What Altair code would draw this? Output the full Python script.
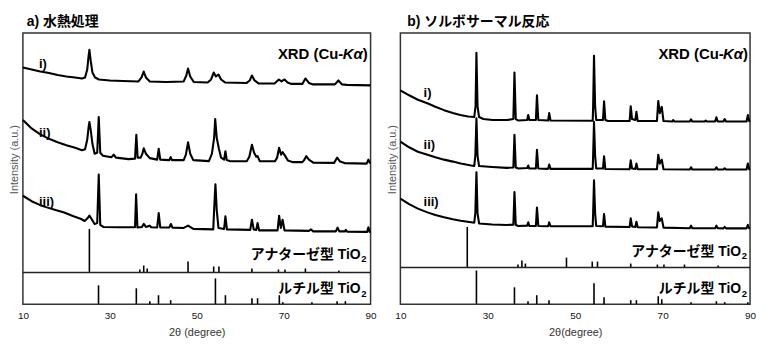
import altair as alt
import pandas as pd

# ---------------- data (2theta in degree, intensity in a.u.) ----------------
# a) hydrothermal treatment
HYDRO_I = [(10, 239), (12, 237), (14, 235), (16, 233.5), (18, 231.5), (20, 230), (22, 229), (23.6, 228),
           (24.3, 229), (24.8, 237), (25.1, 250), (25.3, 257), (25.6, 246), (26.0, 234), (26.6, 229),
           (27.5, 227), (30, 226), (33, 225.5), (36.6, 225), (37.3, 229), (37.8, 235), (38.3, 229),
           (39.2, 225), (43, 224.5), (47.0, 225), (47.6, 231), (48.0, 238), (48.5, 230), (49.3, 224.5),
           (52.5, 224), (53.3, 227), (53.9, 234), (54.4, 230), (55.0, 232), (55.6, 227), (56.5, 224),
           (61.5, 223.5), (62.2, 226), (62.7, 231), (63.3, 226), (64.2, 223), (67.9, 223), (68.4, 225),
           (68.9, 227), (69.5, 225), (70.2, 227), (70.9, 224), (71.8, 222.5), (74.3, 222.5), (75.0, 228),
           (75.8, 223.5), (76.8, 222), (81.8, 222), (82.6, 226), (83.4, 222), (84.5, 221.5), (90, 221)]
HYDRO_II = [(10, 186), (12, 177.5), (14, 171.5), (16, 167), (18, 163.5), (20, 160.5), (22, 158), (23.6, 155.5),
            (24.3, 156.5), (24.8, 166), (25.1, 178), (25.3, 184), (25.6, 176), (26.0, 162), (26.5, 152),
            (27.1, 153), (27.45, 189), (27.8, 153), (28.4, 150), (30.4, 148.5), (30.9, 151), (31.4, 148),
            (34.3, 146.5), (35.8, 147), (36.1, 171), (36.4, 148), (37.1, 148), (37.5, 152), (37.8, 157.5),
            (38.3, 152), (39.2, 147.5), (40.9, 146), (41.25, 157), (41.6, 146), (43.7, 145.5), (44.0, 148.5),
            (44.3, 145.5), (47.0, 145.5), (47.5, 151), (48.0, 163.5), (48.5, 152), (49.2, 145.5),
            (52.8, 144.5), (53.5, 152), (54.0, 168), (54.25, 187), (54.6, 168), (55.1, 157), (55.6, 148),
            (56.3, 146), (56.6, 154.5), (56.9, 145.5), (57.6, 144.5), (61.5, 144.3), (62.1, 149),
            (62.7, 161), (63.2, 153), (63.7, 149), (64.0, 149.5), (64.5, 144.5), (68.0, 144.3), (68.5, 148),
            (68.95, 158), (69.4, 151), (69.75, 153.5), (70.3, 150), (71.0, 145), (72.0, 143.5),
            (74.3, 143.5), (74.7, 145.5), (75.2, 149.5), (75.8, 146), (76.8, 143), (81.6, 142.7),
            (82.3, 148), (83.0, 144), (84.0, 142.5), (89.1, 142), (89.5, 146), (89.8, 143), (90, 142.5)]
HYDRO_III = [(10, 109.5), (12, 104), (14, 100), (15.7, 97.5), (17.5, 95), (19.5, 92.5), (21.5, 89), (23.4, 86),
             (24.2, 84), (24.8, 86.5), (25.3, 89.5), (25.8, 86), (26.5, 81), (27.1, 82), (27.45, 131),
             (27.8, 80), (28.5, 78), (32, 77.7), (35.8, 77.7), (36.05, 111), (36.35, 77.5), (37.4, 78),
             (37.8, 81), (38.3, 78), (39.2, 79.3), (39.5, 77.7), (40.9, 77.5), (41.25, 92), (41.6, 77.5),
             (43.7, 77.5), (44.05, 81), (44.4, 77.3), (47.0, 77), (48.0, 79.3), (49.2, 76), (53.8, 75.5),
             (54.05, 100), (54.3, 121), (54.6, 95), (55.0, 77), (56.3, 76), (56.6, 88.7), (56.95, 75.5),
             (62.3, 75), (62.7, 85.3), (63.1, 75.5), (63.7, 75), (64.0, 82), (64.35, 74.5), (68.6, 74.5),
             (68.95, 89.3), (69.35, 77), (69.75, 85.3), (70.2, 74.5), (75.8, 74), (76.3, 75.5), (76.8, 73.5),
             (82.0, 73.5), (82.4, 77.3), (82.8, 73.5), (84.1, 73.5), (84.3, 75), (84.6, 73.3), (89.2, 73),
             (89.5, 77.7), (89.8, 73), (90, 73)]

# b) solvothermal reaction
SOLVO_I = [(10, 216), (12, 211), (14, 206.5), (16.3, 202.7), (18, 199.5), (20, 196), (22, 193), (23.7, 191),
           (25.5, 189.5), (26.9, 189), (27.2, 200), (27.4, 254), (27.65, 200), (28.0, 189), (29, 187),
           (31.1, 186), (34.4, 186), (35.85, 187), (36.1, 234), (36.4, 187), (37.0, 185.5), (39.0, 186),
           (39.25, 191), (39.5, 186), (41.0, 186), (41.25, 211), (41.55, 186), (43.8, 185.5), (44.05, 193),
           (44.35, 185.5), (54.0, 185.3), (54.1, 200), (54.3, 251), (54.55, 200), (54.8, 186), (56.35, 186),
           (56.6, 205), (56.9, 186), (57.5, 185), (62.45, 185), (62.7, 200), (63.0, 187), (63.75, 186),
           (64.0, 194.3), (64.3, 185), (68.7, 185), (69.0, 205.3), (69.35, 193), (69.8, 199.3), (70.2, 185),
           (72.2, 184.5), (72.4, 186), (72.7, 184.5), (76.2, 184.5), (76.5, 186.7), (76.8, 184.5),
           (79.6, 184.5), (79.85, 185.5), (80.1, 184.5), (82.0, 184.5), (82.3, 188.7), (82.6, 184.5),
           (83.9, 184.5), (84.2, 187), (84.5, 184.5), (89.2, 184.5), (89.5, 191), (89.8, 185), (90, 184.5)]
SOLVO_II = [(10, 164.3), (12, 158.5), (14, 154), (16.2, 151), (18, 148.5), (20, 146), (22, 144), (23.8, 142),
            (26.2, 140), (26.9, 139.5), (27.15, 150), (27.4, 187.7), (27.65, 150), (28.0, 139.5), (31, 138.5),
            (34.4, 137.7), (35.85, 138), (36.1, 171), (36.4, 138), (37.0, 137), (39.0, 137.5), (39.25, 140),
            (39.5, 137), (41.0, 137), (41.25, 156), (41.55, 137), (43.8, 136.7), (44.05, 141), (44.35, 136.7),
            (54.0, 136.7), (54.1, 150), (54.3, 184.3), (54.55, 150), (54.8, 137), (56.35, 137), (56.6, 149.3),
            (56.9, 136.5), (62.45, 136.3), (62.7, 145.3), (63.0, 137), (63.75, 136.5), (64.0, 142),
            (64.3, 136.3), (68.7, 136.3), (69.0, 151), (69.35, 142), (69.8, 146), (70.2, 136.3), (76.2, 136),
            (76.5, 138.3), (76.8, 136), (82.0, 136), (82.3, 138.3), (82.6, 136), (83.9, 136), (84.2, 137.3),
            (84.5, 136), (89.2, 136), (89.5, 142), (89.8, 136.3), (90, 136)]
SOLVO_III = [(10, 106.7), (12, 101), (14, 96.5), (16.2, 92.7), (18, 90), (20, 87.7), (22, 85.8), (23.8, 84.3),
             (26.2, 82.7), (26.9, 82.3), (27.15, 92), (27.4, 133.3), (27.65, 92), (28.0, 81.5), (31, 80.5),
             (34.4, 80), (35.85, 80.3), (36.1, 113.3), (36.4, 80), (37.0, 79), (39.0, 79.3), (39.25, 82.7),
             (39.5, 79), (41.0, 79), (41.25, 97.7), (41.55, 79), (43.8, 78.7), (44.05, 82.7), (44.35, 78.7),
             (54.0, 78.7), (54.1, 92), (54.3, 125), (54.55, 92), (54.8, 79), (56.35, 78.7), (56.6, 91),
             (56.9, 78.3), (62.45, 78), (62.7, 86.7), (63.0, 78.5), (63.75, 78), (64.0, 83.3), (64.3, 77.7),
             (68.7, 77.5), (69.0, 92.7), (69.35, 84), (69.8, 86.7), (70.2, 77.3), (76.2, 76.7), (76.5, 79.3),
             (76.8, 76.7), (82.0, 76.7), (82.3, 79.3), (82.6, 76.7), (83.9, 76.5), (84.2, 78), (84.5, 76.5),
             (89.2, 76.5), (89.5, 80), (89.8, 76.7), (90, 76.5)]

# reference patterns (stick positions and heights)
ANATASE_ANGLE = [25.3, 36.9, 37.8, 38.6, 48.0, 53.9, 55.1, 62.7, 68.8, 70.3, 75.0, 82.7]
ANATASE_H_A = [44, 3, 7, 4, 11, 6, 6, 4, 3, 3, 4, 2]
ANATASE_H_B = [41, 3, 7, 4, 10, 6, 6, 4, 3, 3, 3, 2]
RUTILE_ANGLE = [27.4, 36.1, 39.2, 41.2, 44.0, 54.3, 56.6, 62.7, 64.0, 69.0, 69.8, 76.5, 82.3, 84.2, 89.5]
RUTILE_H_A = [19, 16, 3, 9, 4, 26, 9, 6, 6, 9, 2, 2, 3, 3, 0]
RUTILE_H_B = [34, 17, 3, 9, 4, 21, 7, 4, 4, 8, 5, 2, 3, 2, 2]
ANATASE_BASE_A = 32
ANATASE_BASE_B = 37

SAMPLES = ["i)", "ii)", "iii)"]
SAMPLE_POS_A = [(13.7, 242.5), (13.7, 173), (13.7, 103.5)]
SAMPLE_POS_B = [(15.3, 213), (15.3, 161), (15.3, 103)]

X_TICKS = [10, 30, 50, 70, 90]

FONT = "Liberation Sans, Arial, Noto Sans CJK JP, sans-serif"
JFONT = "Liberation Sans, Noto Sans CJK JP, sans-serif"
PLOT_H = 273


def make_panel(curves, ana_h, rut_h, ana_base, sample_pos, title, title_dx, xtitle, width,
               ana_label_y, rut_label_y, right_dx):
    xs = alt.Scale(domain=[10, 90], nice=False, zero=False)
    ys = alt.Scale(domain=[0, 274], nice=False, zero=False)

    x_axis = alt.Axis(values=X_TICKS, ticks=False, tickSize=0, domain=False, grid=False,
                      labelFontSize=10, labelFont=FONT, labelColor="#111", labelPadding=6,
                      labelFlush=False, labelOverlap=False,
                      title=xtitle, titleFont=FONT, titleFontSize=11, titleFontWeight="normal",
                      titleColor="#333", titlePadding=7, minExtent=0)
    y_axis = alt.Axis(labels=False, ticks=False, tickSize=0, domain=False, grid=False,
                      title="Intensity (a.u.)", titleFont=FONT, titleFontSize=11,
                      titleFontWeight="normal", titleColor="#555", titlePadding=3,
                      minExtent=0, titleY=127)

    def X(field):
        return alt.X(field, scale=xs, axis=x_axis, title=xtitle)

    def Y(field):
        return alt.Y(field, scale=ys, axis=y_axis, title="Intensity (a.u.)")

    frames = []
    for name, pts in zip(SAMPLES, curves):
        d = pd.DataFrame(pts, columns=["angle", "intensity"])
        d["sample"] = name
        frames.append(d)
    line_df = pd.concat(frames, ignore_index=True)

    lines = alt.Chart(line_df).mark_line(color="black", strokeWidth=2.1, strokeJoin="round").encode(
        x=X("angle:Q"), y=Y("intensity:Q"), detail="sample:N",
    )

    ana_df = pd.DataFrame({"angle": ANATASE_ANGLE, "h": ana_h})
    ana_df["base"] = ana_base
    ana_df["top"] = ana_df["base"] + ana_df["h"]
    rut_df = pd.DataFrame({"angle": RUTILE_ANGLE, "h": rut_h})
    rut_df["base"] = 0
    rut_df["top"] = rut_df["h"]
    sticks_df = pd.concat([ana_df, rut_df], ignore_index=True)
    sticks_df = sticks_df[sticks_df["h"] > 0]

    sticks = alt.Chart(sticks_df).mark_rule(color="black", strokeWidth=1.6).encode(
        x=X("angle:Q"), y=Y("base:Q"), y2="top:Q",
    )

    divider = alt.Chart(pd.DataFrame({"v": [ana_base]})).mark_rule(color="#222", strokeWidth=1.5).encode(
        y=Y("v:Q")
    )

    lab_df = pd.DataFrame({"label": SAMPLES, "angle": [p[0] for p in sample_pos],
                           "intensity": [p[1] for p in sample_pos]})
    labels = alt.Chart(lab_df).mark_text(align="left", baseline="middle", fontSize=13,
                                         fontWeight="bold", font=FONT, color="black").encode(
        x=X("angle:Q"), y=Y("intensity:Q"), text="label:N",
    )

    def right_text(txt, yv, dx, size, style="normal", dy=0, font=FONT):
        return alt.Chart(pd.DataFrame({"t": [txt], "angle": [90], "intensity": [yv]})).mark_text(
            align="right", baseline="middle", fontSize=size, fontWeight="bold", fontStyle=style,
            font=font, dx=dx, dy=dy, color="black").encode(
            x=X("angle:Q"), y=Y("intensity:Q"), text="t:N",
        )

    xrd_y = 253
    xrd = [
        right_text(")", xrd_y, right_dx + 1, 15),
        right_text("K\u03b1", xrd_y, right_dx + 1 - 5, 15, style="italic"),
        right_text("XRD (Cu-", xrd_y, right_dx + 1 - 5 - 19.5, 15),
    ]
    ana_lab = [
        right_text("アナターゼ型 TiO", ana_label_y, right_dx - 6, 14, font=JFONT),
        right_text("2", ana_label_y, right_dx, 9.5, dy=4.5),
    ]
    rut_lab = [
        right_text("ルチル型 TiO", rut_label_y, right_dx - 6, 14, font=JFONT),
        right_text("2", rut_label_y, right_dx, 9.5, dy=4.5),
    ]

    return alt.layer(lines, sticks, divider, labels, *xrd, *ana_lab, *rut_lab).properties(
        width=width, height=PLOT_H,
        title=alt.TitleParams(text=title, anchor="start", frame="group", dx=title_dx, offset=4,
                              fontSize=14, fontWeight="bold", font=JFONT, color="black"),
    )


panel_a = make_panel([HYDRO_I, HYDRO_II, HYDRO_III], ANATASE_H_A, RUTILE_H_A, ANATASE_BASE_A,
                     SAMPLE_POS_A, "a) 水熱処理", 4, "2θ (degree)", 350, 50, 15, -4)
panel_b = make_panel([SOLVO_I, SOLVO_II, SOLVO_III], ANATASE_H_B, RUTILE_H_B, ANATASE_BASE_B,
                     SAMPLE_POS_B, "b) ソルボサーマル反応", 7, "2θ(degree)", 352, 53, 15, -3)

chart = alt.hconcat(panel_a, panel_b, spacing=8).properties(
    padding={"left": 0, "top": 5, "right": 0, "bottom": 0}
).configure_view(stroke="#333", strokeWidth=1.5)

chart.save("out.html", embed_options={"renderer": "svg", "actions": False})
